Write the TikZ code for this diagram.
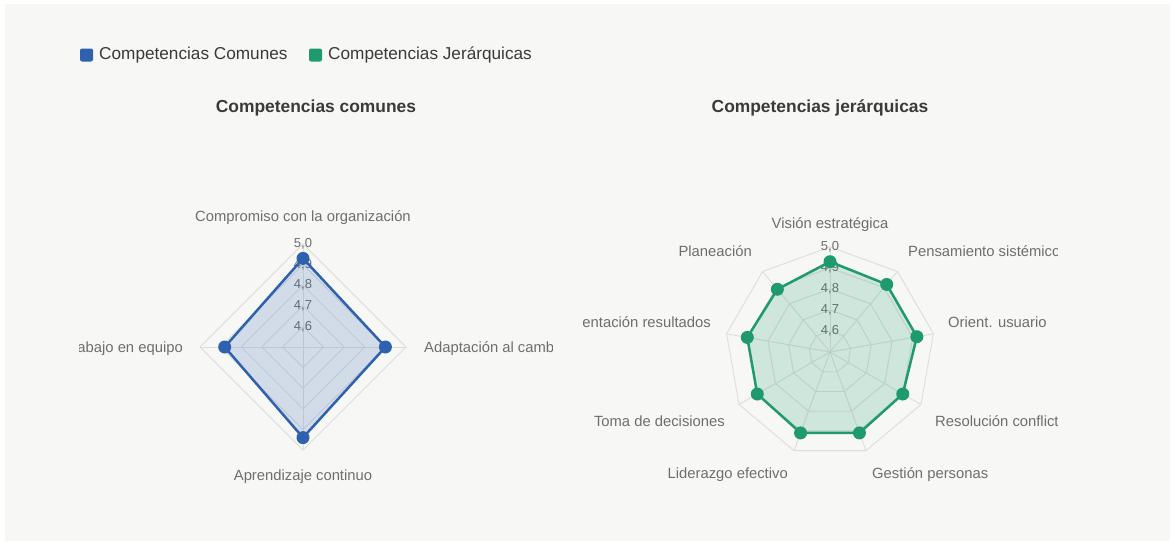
\documentclass[tikz,border=0pt]{standalone}
\usepackage{fontspec}
\setmainfont{Liberation Sans}
\usetikzlibrary{calc}
\definecolor{comunblue}{HTML}{2F62AE}
\definecolor{jerargreen}{HTML}{1E9A6C}
\definecolor{panelgray}{HTML}{F7F7F5}
\definecolor{gridgray}{HTML}{DDDDDD}
\definecolor{labelgray}{HTML}{6E6E6E}
\definecolor{titlegray}{HTML}{3A3A3A}

\tikzset{
  axislabel/.style={text=labelgray, font=\fontsize{14.8}{17}\selectfont, inner sep=0pt, text height=14.5pt, text depth=3pt},
  ticklabel/.style={text=labelgray, font=\fontsize{13}{15}\selectfont, inner sep=0pt},
  ring/.style={draw=gridgray, line width=0.9pt},
  dot/.style={circle, inner sep=0pt, minimum size=13pt},
  charttitle/.style={text=titlegray, font=\bfseries\fontsize{17.4}{20}\selectfont},
  legendtext/.style={text=titlegray, font=\fontsize{17.2}{20}\selectfont, anchor=west, inner sep=0pt},
  serie/.style={line width=2.5pt, line join=round}
}

\begin{document}
\begin{tikzpicture}[x=1pt, y=-1pt]
    \useasboundingbox (0,0) rectangle (1174,546);
    \fill[white] (0,0) rectangle (1174,546);
    \fill[panelgray] (5,4) rectangle (1170,541);
    % legend
    \node[fill=comunblue, rounded corners=2pt, minimum size=13pt, inner sep=0pt] (legcom) at (86.5,55) {};
    \node[legendtext] (legcomtxt) at (99,55) {Competencias Comunes};
    \node[fill=jerargreen, rounded corners=2pt, minimum size=13pt, inner sep=0pt] (legjer) at (315.5,55) {};
    \node[legendtext] (legjertxt) at (328,55) {Competencias Jerárquicas};
    % titles
    \node[charttitle] (titcom) at (316,108) {Competencias comunes};
    \node[charttitle] (titjer) at (820,108) {Competencias jerárquicas};

    % common competences
    \begin{scope}[shift={(303,347)}]
      \foreach \r in {20.6,41.2,61.8,82.4,103}
        \draw[ring] (-90:\r) -- (0:\r) -- (90:\r) -- (180:\r) -- cycle;
      \foreach \a in {-90,0,90,180}
        \draw[ring] (0,0) -- (\a:103);
      \node[ticklabel] (c46) at (-90:20.6) {4,6};
      \node[ticklabel] (c47) at (-90:41.2) {4,7};
      \node[ticklabel] (c48) at (-90:61.8) {4,8};
      \node[ticklabel] (c49) at (-90:82.4) {4,9};
      \node[ticklabel] (c50) at (-90:103) {5,0};
      \coordinate (ccomp) at (-90:88.6);
      \coordinate (cadap) at (0:82.4);
      \coordinate (capre) at (90:90.6);
      \coordinate (ctrab) at (180:78.3);
      \fill[comunblue, fill opacity=0.18] (ccomp) -- (cadap) -- (capre) -- (ctrab) -- cycle;
      \draw[serie, comunblue] (ccomp) -- (cadap) -- (capre) -- (ctrab) -- cycle;
      \foreach \p in {ccomp,cadap,capre,ctrab}
        \node[dot, fill=comunblue] at (\p) {};
    \end{scope}
    \begin{scope}
      \clip (79,150) rectangle (552,500);
      \node[axislabel] (lcomp) at (303,216) {Compromiso con la organización};
      \node[axislabel, anchor=west] (ladap) at (424,347) {Adaptación al cambio};
      \node[axislabel] (lapre) at (303,475) {Aprendizaje continuo};
      \node[axislabel, anchor=east] (ltrab) at (183,347) {Trabajo en equipo};
    \end{scope}

    % hierarchical competences
    \begin{scope}[shift={(830,352)}]
      \foreach \r in {21,42,63,84,105}
        \draw[ring] (-90:\r) \foreach \k in {1,...,8}{ -- ({-90+40*\k}:\r)} -- cycle;
      \foreach \k in {0,...,8}
        \draw[ring] (0,0) -- ({-90+40*\k}:105);
      \node[ticklabel] (j46) at (-90:21) {4,6};
      \node[ticklabel] (j47) at (-90:42) {4,7};
      \node[ticklabel] (j48) at (-90:63) {4,8};
      \node[ticklabel] (j49) at (-90:84) {4,9};
      \node[ticklabel] (j50) at (-90:105) {5,0};
      \coordinate (jvis) at (-90:90.3);
      \coordinate (jpen) at (-50:88.2);
      \coordinate (jori) at (-10:88.2);
      \coordinate (jres) at (30:84);
      \coordinate (jges) at (70:86.1);
      \coordinate (jlid) at (110:86.1);
      \coordinate (jtom) at (150:84);
      \coordinate (jout) at (190:84);
      \coordinate (jpla) at (230:81.9);
      \fill[jerargreen, fill opacity=0.18] (jvis) -- (jpen) -- (jori) -- (jres) -- (jges) -- (jlid) -- (jtom) -- (jout) -- (jpla) -- cycle;
      \draw[serie, jerargreen] (jvis) -- (jpen) -- (jori) -- (jres) -- (jges) -- (jlid) -- (jtom) -- (jout) -- (jpla) -- cycle;
      \foreach \p in {jvis,jpen,jori,jres,jges,jlid,jtom,jout,jpla}
        \node[dot, fill=jerargreen] at (\p) {};
    \end{scope}
    \begin{scope}
      \clip (583,150) rectangle (1057,500);
      \node[axislabel] (lvis) at (830,223) {Visión estratégica};
      \node[axislabel, anchor=west] (lpen) at (908,251) {Pensamiento sistémico};
      \node[axislabel, anchor=west] (lori) at (948,322) {Orient. usuario};
      \node[axislabel, anchor=west] (lres) at (935,421) {Resolución conflictos};
      \node[axislabel, anchor=west] (lges) at (872,473) {Gestión personas};
      \node[axislabel, anchor=east] (llid) at (788,473) {Liderazgo efectivo};
      \node[axislabel, anchor=east] (ltom) at (725,421) {Toma de decisiones};
      \node[axislabel, anchor=east] (lout) at (711,322) {Orientación resultados};
      \node[axislabel, anchor=east] (lpla) at (752,251) {Planeación};
    \end{scope}
\end{tikzpicture}
\end{document}
